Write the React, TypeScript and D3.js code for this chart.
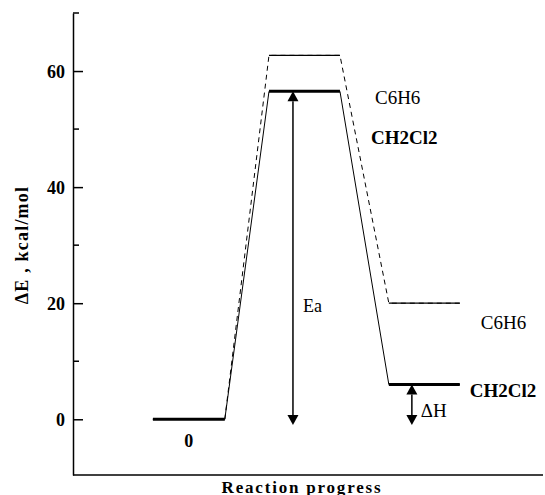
import React, { useRef, useEffect } from 'react';
import * as d3 from 'd3';

// reaction stages, x in "progress" units (0..10 across the axis)
const stages = ['reactant', 'TS', 'product'];
const stageStart = [1.7, 4.17, 6.72];
const stageEnd = [3.23, 5.68, 8.23];

// energies, kcal/mol
const energyCH2Cl2 = [0, 56.5, 6.0];
const energyC6H6 = [0, 62.7, 20.0];

const majorTicks = [0, 20, 40, 60];
const minorTicks = [10, 30, 50, 70];

const eaX = 4.68;
const dhX = 7.21;
const arrowBottom = -1;

function App() {
    const svgRef = useRef<SVGSVGElement>(null);

    useEffect(() => {
        const layout = { width: 545, height: 495, left: 73, right: 543, top: 13, bottom: 475 };
        const svg = d3.select(svgRef.current);
        svg.selectAll('*').remove();

        const font = '"Liberation Serif", "Times New Roman", serif';

        const x = d3.scaleLinear().domain([0, 10]).range([layout.left, layout.right]);
        const y = d3.scaleLinear().domain([-9.6, 70]).range([layout.bottom, layout.top]);

        // y axis, ticks point inward
        const yAxis = d3.axisLeft(y)
            .tickValues(majorTicks)
            .tickSizeInner(-10)
            .tickSizeOuter(0)
            .tickPadding(8)
            .tickFormat(d3.format('d'));

        const gy = svg.append('g')
            .attr('transform', `translate(${layout.left},0)`)
            .call(yAxis);
        gy.select('.domain').attr('stroke', '#000').attr('stroke-width', 1.5);
        gy.selectAll('.tick line').attr('stroke', '#000').attr('stroke-width', 1.5);
        gy.selectAll('.tick text')
            .attr('font-family', font)
            .attr('font-weight', 'bold')
            .attr('font-size', 18)
            .attr('fill', '#000')
            .attr('dy', '0.34em');

        svg.append('g').selectAll('line')
            .data(minorTicks)
            .join('line')
                .attr('x1', layout.left)
                .attr('x2', layout.left + 6)
                .attr('y1', d => y(d))
                .attr('y2', d => y(d))
                .attr('stroke', '#000')
                .attr('stroke-width', 1.5);

        // x axis line (no ticks)
        svg.append('line')
            .attr('x1', layout.left)
            .attr('x2', layout.right)
            .attr('y1', layout.bottom)
            .attr('y2', layout.bottom)
            .attr('stroke', '#000')
            .attr('stroke-width', 1.5);

        // connectors between levels
        const connectors = (energy: number[]) => {
            const pts: [number, number][] = [];
            stages.forEach((s, i) => {
                pts.push([stageStart[i], energy[i]]);
                pts.push([stageEnd[i], energy[i]]);
            });
            return pts;
        };
        const line = d3.line<[number, number]>()
            .x(d => x(d[0]))
            .y(d => y(d[1]));

        // C6H6: dashed connectors, thin levels
        svg.append('path')
            .attr('d', line(connectors(energyC6H6)))
            .attr('fill', 'none')
            .attr('stroke', '#000')
            .attr('stroke-width', 1)
            .attr('stroke-dasharray', '5,4');
        svg.append('g').selectAll('line')
            .data(energyC6H6.slice(1))
            .join('line')
                .attr('x1', (d, i) => x(stageStart[i + 1]))
                .attr('x2', (d, i) => x(stageEnd[i + 1]))
                .attr('y1', d => y(d))
                .attr('y2', d => y(d))
                .attr('stroke', '#000')
                .attr('stroke-width', 1.3);

        // CH2Cl2: solid connectors, thick levels
        svg.append('path')
            .attr('d', line(connectors(energyCH2Cl2)))
            .attr('fill', 'none')
            .attr('stroke', '#000')
            .attr('stroke-width', 1);
        svg.append('g').selectAll('line')
            .data(energyCH2Cl2)
            .join('line')
                .attr('x1', (d, i) => x(stageStart[i]))
                .attr('x2', (d, i) => x(stageEnd[i]))
                .attr('y1', d => y(d))
                .attr('y2', d => y(d))
                .attr('stroke', '#000')
                .attr('stroke-width', 3);

        // double headed arrows
        const arrow = (xv: number, top: number, bottom: number) => {
            const cx = x(xv);
            const y1 = y(top);
            const y2 = y(bottom);
            const hw = 5.5;
            const hl = 10;
            svg.append('line')
                .attr('x1', cx).attr('x2', cx)
                .attr('y1', y1 + hl).attr('y2', y2 - hl)
                .attr('stroke', '#000')
                .attr('stroke-width', 1.5);
            svg.append('path')
                .attr('d', `M${cx},${y1}L${cx - hw},${y1 + hl}L${cx + hw},${y1 + hl}Z`)
                .attr('fill', '#000');
            svg.append('path')
                .attr('d', `M${cx},${y2}L${cx - hw},${y2 - hl}L${cx + hw},${y2 - hl}Z`)
                .attr('fill', '#000');
        };
        arrow(eaX, energyCH2Cl2[1], arrowBottom);
        arrow(dhX, energyCH2Cl2[2], arrowBottom);

        const label = (t: string, px: number, py: number, bold: boolean, size = 19, anchor = 'start') => {
            svg.append('text')
                .attr('x', px)
                .attr('y', py)
                .attr('font-family', font)
                .attr('font-weight', bold ? 'bold' : 'normal')
                .attr('font-size', size)
                .attr('text-anchor', anchor)
                .attr('fill', '#000')
                .text(t);
        };

        label('C6H6', x(stageEnd[1]) + 35, y(energyCH2Cl2[1]) + 13, false);
        label('CH2Cl2', x(stageEnd[1]) + 31, y(energyCH2Cl2[1]) + 53, true);
        label('C6H6', x(stageEnd[2]) + 21, y(energyC6H6[2]) + 26, false);
        label('CH2Cl2', x(stageEnd[2]) + 10, y(energyCH2Cl2[2]) + 13, true);
        label('0', (x(stageStart[0]) + x(stageEnd[0])) / 2, y(0) + 28, true, 18, 'middle');
        label('Ea', x(eaX) + 10, 312, false, 18);
        label('\u0394H', x(dhX) + 9, 417, false, 19);

        svg.append('text')
            .attr('x', 302)
            .attr('y', 493)
            .attr('font-family', font)
            .attr('font-weight', 'bold')
            .attr('font-size', 17)
            .attr('letter-spacing', 1.8)
            .attr('text-anchor', 'middle')
            .attr('fill', '#000')
            .text('Reaction progress');

        svg.append('text')
            .attr('transform', `translate(28,245) rotate(-90)`)
            .attr('font-family', font)
            .attr('font-weight', 'bold')
            .attr('font-size', 18)
            .attr('letter-spacing', 1.2)
            .attr('text-anchor', 'middle')
            .attr('fill', '#000')
            .text('\u0394E , kcal/mol');
    }, []);

    return (
        <div style={{ position: 'absolute', left: 0, top: 0 }}>
            <svg ref={svgRef} width={545} height={495} style={{ display: 'block', background: '#fff' }} />
        </div>
    );
}

export default App;
